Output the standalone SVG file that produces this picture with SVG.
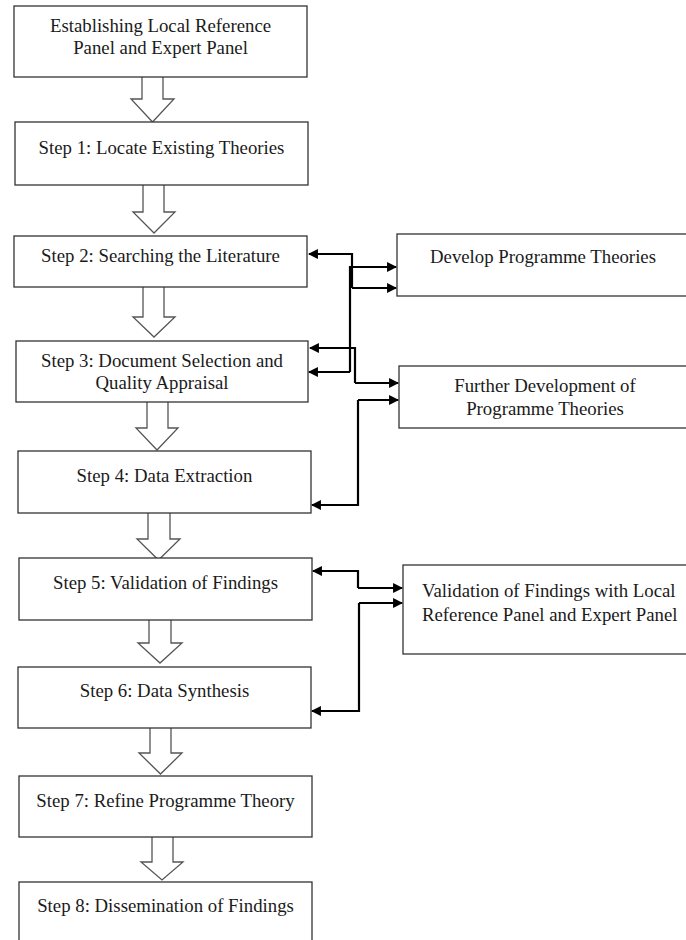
<svg xmlns="http://www.w3.org/2000/svg" width="686" height="940" viewBox="0 0 686 940">
<defs>
<style>
.box{fill:#fff;stroke:#333;stroke-width:1.3}
.t{font-family:"Liberation Serif","Times New Roman",serif;font-size:18.8px;fill:#1a1a1a}
.c{text-anchor:middle}
.ha{fill:#fff;stroke:#555;stroke-width:1.3;stroke-linejoin:miter}
.con{fill:none;stroke:#000;stroke-width:2.2}
</style>
<marker id="ah" viewBox="0 0 10 10" refX="9" refY="5" markerWidth="4.5" markerHeight="4.5" orient="auto" markerUnits="strokeWidth">
<path d="M0,0 L10,5 L0,10 z" fill="#000"/>
</marker>
</defs>
<rect width="686" height="940" fill="#fff"/>

<g id="hollow-arrows">
<path class="ha" d="M142,77 V99 H131 L152.5,122 L174,99 H163 V77"/>
<path class="ha" d="M143,185 V212 H133 L154,233 L175,212 H164 V185"/>
<path class="ha" d="M143,287 V317 H133 L154,337 L175,317 H164 V287"/>
<path class="ha" d="M147,402 V428 H136 L157,450 L178,428 H168 V402"/>
<path class="ha" d="M148,513 V539 H137 L158.5,560 L180,539 H170 V513"/>
<path class="ha" d="M149,620 V643 H138 L160,663 L182,643 H171 V620"/>
<path class="ha" d="M150,728 V753 H139 L160.5,774 L182,753 H171 V728"/>
<path class="ha" d="M152,837 V862 H141 L162,880 L183,862 H173 V837"/>
</g>

<g id="n0"><rect class="box" x="14" y="6" width="293" height="71"/>
<text class="t c" x="160.5" y="32">Establishing Local Reference</text>
<text class="t c" x="160.5" y="54">Panel and Expert Panel</text></g>

<g id="n1"><rect class="box" x="15" y="122" width="293" height="63"/>
<text class="t c" x="161.5" y="154">Step 1: Locate Existing Theories</text></g>

<g id="n2"><rect class="box" x="14" y="236" width="293" height="51"/>
<text class="t c" x="160.5" y="262">Step 2: Searching the Literature</text></g>

<g id="n3"><rect class="box" x="16" y="341" width="292" height="61"/>
<text class="t c" x="162" y="367">Step 3: Document Selection and</text>
<text class="t c" x="162" y="389">Quality Appraisal</text></g>

<g id="n4"><rect class="box" x="18" y="451" width="293" height="62"/>
<text class="t c" x="164.5" y="482">Step 4: Data Extraction</text></g>

<g id="n5"><rect class="box" x="19" y="558" width="293" height="62"/>
<text class="t c" x="165.5" y="589">Step 5: Validation of Findings</text></g>

<g id="n6"><rect class="box" x="18" y="667" width="293" height="61"/>
<text class="t c" x="164.5" y="697">Step 6: Data Synthesis</text></g>

<g id="n7"><rect class="box" x="19" y="776" width="293" height="61"/>
<text class="t c" x="165.5" y="807">Step 7: Refine Programme Theory</text></g>

<g id="n8"><rect class="box" x="19" y="882" width="293" height="70"/>
<text class="t c" x="165.5" y="912">Step 8: Dissemination of Findings</text></g>

<g id="r1"><rect class="box" x="397" y="234" width="300" height="62"/>
<text class="t c" x="543" y="263">Develop Programme Theories</text></g>

<g id="r2"><rect class="box" x="399" y="366" width="300" height="62"/>
<text class="t c" x="545" y="392">Further Development of</text>
<text class="t c" x="545" y="415">Programme Theories</text></g>

<g id="r3"><rect class="box" x="403" y="565" width="300" height="89"/>
<text class="t" x="422" y="597">Validation of Findings with Local</text>
<text class="t" x="422" y="621">Reference Panel and Expert Panel</text></g>

<g id="connectors">
<path class="con" d="M352,288 V254 H309" marker-end="url(#ah)"/>
<path class="con" d="M352,288 H396" marker-end="url(#ah)"/>
<path class="con" d="M350,372 V267 H396" marker-end="url(#ah)"/>
<path class="con" d="M350,372 H309" marker-end="url(#ah)"/>
<path class="con" d="M355,383 V348 H310" marker-end="url(#ah)"/>
<path class="con" d="M355,383 H398" marker-end="url(#ah)"/>
<path class="con" d="M358,400 V505 H312" marker-end="url(#ah)"/>
<path class="con" d="M358,400 H398" marker-end="url(#ah)"/>
<path class="con" d="M358,588 V571 H313" marker-end="url(#ah)"/>
<path class="con" d="M358,588 H402" marker-end="url(#ah)"/>
<path class="con" d="M359,603 V711 H312" marker-end="url(#ah)"/>
<path class="con" d="M359,603 H402" marker-end="url(#ah)"/>
</g>
</svg>
